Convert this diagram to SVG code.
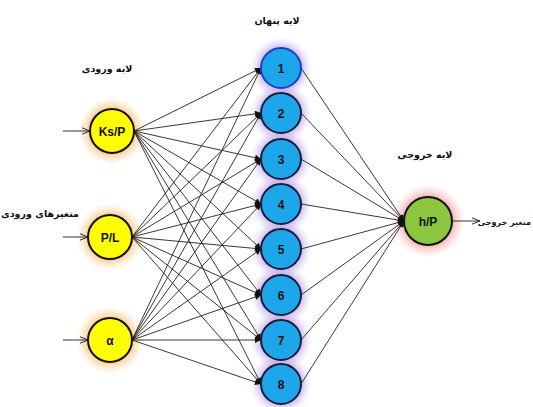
<svg xmlns="http://www.w3.org/2000/svg" width="533" height="407" viewBox="0 0 533 407">
<defs>
<radialGradient id="gIn"><stop offset="0.5" stop-color="#f7a23c" stop-opacity="0.95"/><stop offset="1" stop-color="#fbd9a8" stop-opacity="0"/></radialGradient>
<radialGradient id="gHid"><stop offset="0.5" stop-color="#9a78e0" stop-opacity="0.9"/><stop offset="1" stop-color="#d8c8f4" stop-opacity="0"/></radialGradient>
<radialGradient id="gOut"><stop offset="0.5" stop-color="#ea6b6b" stop-opacity="0.9"/><stop offset="1" stop-color="#f6c2c2" stop-opacity="0"/></radialGradient>
<marker id="ah" viewBox="0 0 10 10" refX="10" refY="5" markerWidth="7" markerHeight="6" markerUnits="userSpaceOnUse" orient="auto"><path d="M0,0 L10,5 L0,10 z" fill="#111"/></marker>
<marker id="ao" viewBox="0 0 10 10" refX="10" refY="5" markerWidth="8" markerHeight="8" markerUnits="userSpaceOnUse" orient="auto"><path d="M0,1 L10,5 L0,9" fill="none" stroke="#222" stroke-width="1.2"/></marker>
</defs>
<style>
.c{stroke:#222;stroke-width:0.9;fill:none;marker-end:url(#ah)}
.io{stroke:#333;stroke-width:1;fill:none;marker-end:url(#ao)}
.in{fill:#ffff00;stroke:#111;stroke-width:2}
.hid{fill:#1ea6ea;stroke:#1b1b3a;stroke-width:2}
.out{fill:#8cc63f;stroke:#111;stroke-width:2}
.nt{font-family:"Liberation Sans",Arial,sans-serif;font-weight:bold;font-size:12px;text-anchor:middle;fill:#111}
.fa{font-family:"DejaVu Sans",sans-serif;font-weight:bold;font-size:9.5px;text-anchor:middle;fill:#111}
</style>
<rect width="533" height="407" fill="#fff"/>
<g id="glows">
<circle cx="112" cy="131" r="34" fill="url(#gIn)"/>
<circle cx="110" cy="237" r="34" fill="url(#gIn)"/>
<circle cx="110" cy="340" r="34" fill="url(#gIn)"/>
<circle cx="281" cy="68" r="31" fill="url(#gHid)"/>
<circle cx="281" cy="113" r="31" fill="url(#gHid)"/>
<circle cx="281" cy="159" r="31" fill="url(#gHid)"/>
<circle cx="281" cy="204" r="31" fill="url(#gHid)"/>
<circle cx="281" cy="249" r="31" fill="url(#gHid)"/>
<circle cx="281" cy="295" r="31" fill="url(#gHid)"/>
<circle cx="281" cy="340" r="31" fill="url(#gHid)"/>
<circle cx="281" cy="384" r="31" fill="url(#gHid)"/>
<circle cx="428" cy="221" r="37" fill="url(#gOut)"/>
</g>
<g id="connectors">
<path class="io" d="M63,131 H90"/>
<path class="io" d="M63,237 H88"/>
<path class="io" d="M63,340 H88"/>
<path class="io" d="M453,221 H480"/>
<path class="c" d="M134,131 L261,68"/>
<path class="c" d="M134,131 L261,113"/>
<path class="c" d="M134,131 L261,159"/>
<path class="c" d="M134,131 L261,204"/>
<path class="c" d="M134,131 L261,249"/>
<path class="c" d="M134,131 L261,295"/>
<path class="c" d="M134,131 L261,340"/>
<path class="c" d="M134,131 L261,384"/>
<path class="c" d="M132,237 L261,68"/>
<path class="c" d="M132,237 L261,113"/>
<path class="c" d="M132,237 L261,159"/>
<path class="c" d="M132,237 L261,204"/>
<path class="c" d="M132,237 L261,249"/>
<path class="c" d="M132,237 L261,295"/>
<path class="c" d="M132,237 L261,340"/>
<path class="c" d="M132,237 L261,384"/>
<path class="c" d="M132,340 L261,68"/>
<path class="c" d="M132,340 L261,113"/>
<path class="c" d="M132,340 L261,159"/>
<path class="c" d="M132,340 L261,204"/>
<path class="c" d="M132,340 L261,249"/>
<path class="c" d="M132,340 L261,295"/>
<path class="c" d="M132,340 L261,340"/>
<path class="c" d="M132,340 L261,384"/>
<path class="c" d="M301,68 L404,221"/>
<path class="c" d="M301,113 L404,221"/>
<path class="c" d="M301,159 L404,221"/>
<path class="c" d="M301,204 L404,221"/>
<path class="c" d="M301,249 L404,221"/>
<path class="c" d="M301,295 L404,221"/>
<path class="c" d="M301,340 L404,221"/>
<path class="c" d="M301,384 L404,221"/>
</g>
<g id="in1"><circle class="in" cx="112" cy="131" r="22"/><text class="nt" x="112" y="135.5">Ks/P</text></g>
<g id="in2"><circle class="in" cx="110" cy="237" r="22"/><text class="nt" x="110" y="241.5">P/L</text></g>
<g id="in3"><circle class="in" cx="110" cy="340" r="22"/><text class="nt" x="110" y="344.5">α</text></g>
<g id="h1"><circle class="hid" cx="281" cy="68" r="20" style="stroke:#1a3fd0"/><text class="nt" x="281" y="72.5">1</text></g>
<g id="h2"><circle class="hid" cx="281" cy="113" r="20"/><text class="nt" x="281" y="117.5">2</text></g>
<g id="h3"><circle class="hid" cx="281" cy="159" r="20"/><text class="nt" x="281" y="163.5">3</text></g>
<g id="h4"><circle class="hid" cx="281" cy="204" r="20"/><text class="nt" x="281" y="208.5">4</text></g>
<g id="h5"><circle class="hid" cx="281" cy="249" r="20"/><text class="nt" x="281" y="253.5">5</text></g>
<g id="h6"><circle class="hid" cx="281" cy="295" r="20"/><text class="nt" x="281" y="299.5">6</text></g>
<g id="h7"><circle class="hid" cx="281" cy="340" r="20"/><text class="nt" x="281" y="344.5">7</text></g>
<g id="h8"><circle class="hid" cx="281" cy="384" r="20"/><text class="nt" x="281" y="388.5">8</text></g>
<g id="out"><circle class="out" cx="428" cy="221" r="24"/><text class="nt" x="428" y="225.5">h/P</text></g>
<g id="labels">
<text class="fa" x="107" y="72">لایه ورودی</text>
<text class="fa" x="277" y="24">لایه پنهان</text>
<text class="fa" x="425" y="158">لایه خروجی</text>
<text class="fa" x="40" y="217">متغیرهای ورودی</text>
<text class="fa" x="531" y="225" style="font-size:8px;text-anchor:end">متغیر خروجی</text>
</g>
</svg>
